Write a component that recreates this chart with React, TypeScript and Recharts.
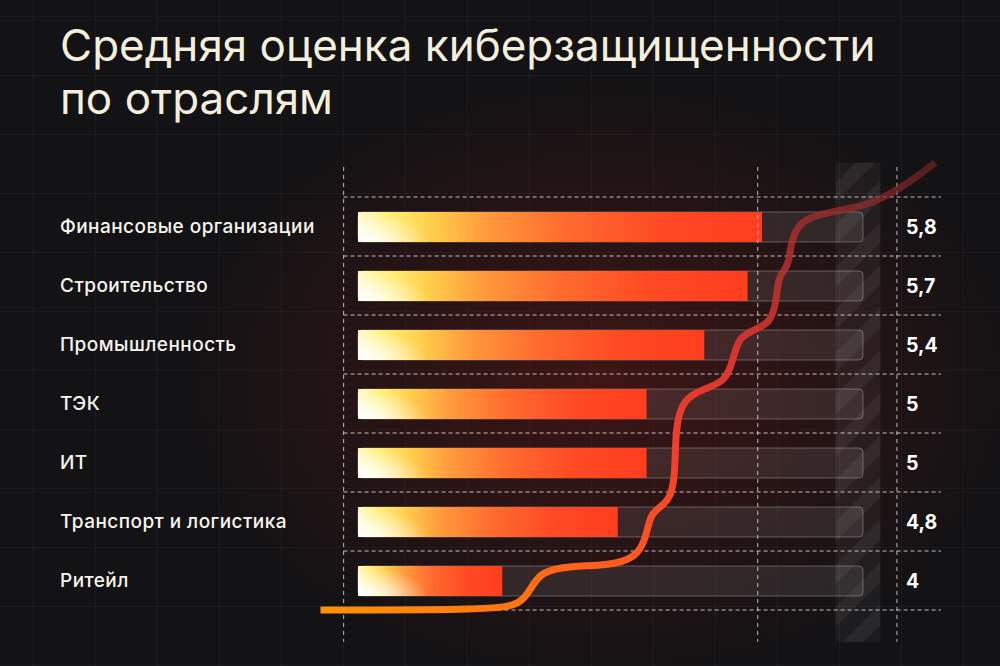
import React from 'react';
import {
  BarChart,
  Bar,
  XAxis,
  YAxis,
  LabelList,
  LineChart,
  Line,
  ReferenceLine,
  ReferenceArea,
} from 'recharts';

// --- data ---
const industries = [
  'Финансовые организации',
  'Строительство',
  'Промышленность',
  'ТЭК',
  'ИТ',
  'Транспорт и логистика',
  'Ритейл',
];
const scores = [5.8, 5.7, 5.4, 5, 5, 4.8, 4];
const scoreDomain: [number, number] = [3, 6.5];

const data = industries.map((name, i) => ({ name, score: scores[i] }));

// --- layout ---
const W = 1000;
const H = 666;
const PLOT_LEFT = 358;
const PLOT_RIGHT = 863;
const PLOT_TOP = 197;
const PLOT_BOTTOM = 610;
const UNIT = (PLOT_RIGHT - PLOT_LEFT) / (scoreDomain[1] - scoreDomain[0]);
const ROW = (PLOT_BOTTOM - PLOT_TOP) / industries.length;

// overlay chart shares the same scale, but with a wider domain so
// the decoration can run past the bars
const overX: [number, number] = [2.5, 7.2];
const overY: [number, number] = [-1, 7.6];
const overMargin = {
  left: PLOT_LEFT - (scoreDomain[0] - overX[0]) * UNIT,
  right: W - (PLOT_LEFT + (overX[1] - scoreDomain[0]) * UNIT),
  top: PLOT_TOP - (0 - overY[0]) * ROW,
  bottom: H - (PLOT_TOP + overY[1] * ROW),
};

// step curve: climbs just past the end of every bar, bottom to top
const STEP_GAP = 0.2;
const BAR_TOP = 0.25;
type Pt = { x: number; y: number };

function stepCorners(): Pt[] {
  const pts: Pt[] = [{ x: 2.74, y: industries.length }];
  let level = industries.length;
  let i = scores.length - 1;
  while (i >= 0) {
    const x = scores[i] + STEP_GAP;
    // equal neighbours share one rise
    let j = i;
    while (j > 0 && scores[j - 1] === scores[i]) j--;
    pts.push({ x, y: level });
    level = j + BAR_TOP;
    pts.push({ x, y: level });
    i = j - 1;
  }
  pts.push({ x: 6.55, y: BAR_TOP });
  pts.push({ x: 7.0, y: -0.58 });
  return pts;
}

const lerp = (a: Pt, b: Pt, t: number): Pt => ({ x: a.x + (b.x - a.x) * t, y: a.y + (b.y - a.y) * t });

// soften the step line before the basis spline: add control points a
// little way from each corner and pull the corner itself half way in
function softCorners(poly: Pt[], r: number, pull: number): Pt[] {
  const tOf = (a: Pt, b: Pt) => Math.min(r / Math.hypot((b.x - a.x) * UNIT, (b.y - a.y) * ROW), 0.5);
  const out: Pt[] = [poly[0]];
  for (let k = 1; k < poly.length; k++) {
    const a = poly[k - 1];
    const b = poly[k];
    const t = tOf(a, b);
    if (k > 1) out.push(lerp(a, b, t));
    const end = lerp(a, b, 1 - t);
    if (t < 0.5 && k < poly.length - 1) out.push(end);
    if (k < poly.length - 1) {
      const c = poly[k + 1];
      const next = lerp(b, c, tOf(b, c));
      out.push(lerp(b, lerp(end, next, 0.5), pull));
    }
  }
  out.push(poly[poly.length - 1]);
  return out;
}
const curve = softCorners(stepCorners(), 40, 0.5);

const rowLines = Array.from({ length: industries.length + 1 }, (_, i) => i);
const colLines = [2.9, 5.77, 6.735];

const fmt = (v: number) => String(v).replace('.', ',');

const FONT = 'Inter, "Noto Sans", sans-serif';

const BarShape = (props: any) => {
  const { x, y, width, height } = props;
  if (!width || width <= 0) return null;
  return (
    <g>
      <rect x={x} y={y} width={width} height={height} fill="url(#barFill)" />
      <rect x={x} y={y} width={Math.min(width, 70)} height={height} fill="url(#barCorner)" />
    </g>
  );
};

const CategoryTick = (props: any) => {
  const { y, payload } = props;
  return (
    <text
      x={60}
      y={y}
      dy={6.5}
      fill="#f7f5f0"
      fontSize={19}
      fontWeight={500}
      letterSpacing={0.45}
      fontFamily={FONT}
      textAnchor="start"
    >
      {payload.value}
    </text>
  );
};

const ValueLabel = (props: any) => {
  const { y, height, value } = props;
  return (
    <text x={PLOT_RIGHT + 43} y={y + height / 2} dy={7} fill="#ffffff" fontSize={19.5} fontWeight={700} fontFamily={FONT}>
      {fmt(value)}
    </text>
  );
};

export default function App() {
  return (
    <div
      style={{
        position: 'absolute',
        left: 0,
        top: 0,
        width: W,
        height: H,
        overflow: 'hidden',
        backgroundColor: '#131214',
        backgroundImage:
          'radial-gradient(ellipse 420px 300px at 600px 380px, rgba(105,24,22,0.5), rgba(0,0,0,0) 100%),' +
          'linear-gradient(to right, rgba(255,255,255,0.035) 0 1px, transparent 1px),' +
          'linear-gradient(to bottom, rgba(255,255,255,0.035) 0 1px, transparent 1px)',
        backgroundSize: '100% 100%, 62px 100%, 100% 59px',
        backgroundPosition: '0 0, 33px 0, 0 16px',
        fontFamily: FONT,
      }}
    >
      <div
        style={{
          position: 'absolute',
          left: 60,
          top: 19,
          fontSize: 44,
          lineHeight: '53px',
          color: '#f3efdc',
          fontWeight: 400,
        }}
      >
        Средняя оценка киберзащищенности
        <br />
        по отраслям
      </div>

      <div style={{ position: 'absolute', left: 0, top: 0 }}>
        <BarChart
          width={W}
          height={H}
          data={data}
          layout="vertical"
          margin={{ top: PLOT_TOP, bottom: H - PLOT_BOTTOM, left: 60, right: W - PLOT_RIGHT }}
        >
          <defs>
            <linearGradient id="barFill" x1="0" y1="0" x2="1" y2="0">
              <stop offset="0" stopColor="#fff8c8" />
              <stop offset="0.07" stopColor="#fff27a" />
              <stop offset="0.18" stopColor="#ffcf4c" />
              <stop offset="0.32" stopColor="#ff9a3c" />
              <stop offset="0.52" stopColor="#ff6a2e" />
              <stop offset="0.75" stopColor="#ff4a24" />
              <stop offset="1" stopColor="#ff3d1f" />
            </linearGradient>
            <radialGradient id="barCorner" cx="0" cy="1" r="1">
              <stop offset="0" stopColor="#ffffff" stopOpacity={1} />
              <stop offset="0.35" stopColor="#ffffff" stopOpacity={0.75} />
              <stop offset="1" stopColor="#ffffff" stopOpacity={0} />
            </radialGradient>
          </defs>
          <XAxis type="number" domain={scoreDomain} hide />
          <YAxis
            type="category"
            dataKey="name"
            width={PLOT_LEFT - 60}
            axisLine={false}
            tickLine={false}
            tick={<CategoryTick />}
          />
          <Bar
            dataKey="score"
            barSize={30}
            isAnimationActive={false}
            shape={<BarShape />}
            background={{ fill: 'rgba(255,255,255,0.085)', stroke: 'rgba(255,255,255,0.28)', strokeWidth: 1, radius: 4 }}
          >
            <LabelList dataKey="score" content={<ValueLabel />} />
          </Bar>
        </BarChart>
      </div>

      <div style={{ position: 'absolute', left: 0, top: 0, pointerEvents: 'none' }}>
        <LineChart width={W} height={H} data={curve} margin={overMargin}>
          <defs>
            <pattern id="hatch" patternUnits="userSpaceOnUse" width="30" height="30" patternTransform="rotate(45)">
              <rect width="30" height="30" fill="rgba(255,255,255,0.045)" />
              <rect width="14" height="30" fill="rgba(255,255,255,0.055)" />
            </pattern>
            <linearGradient id="curveFill" x1="0" y1="1" x2="1" y2="0">
              <stop offset="0" stopColor="#ff9300" />
              <stop offset="0.3" stopColor="#ff5a1f" />
              <stop offset="0.45" stopColor="#f2402c" />
              <stop offset="0.62" stopColor="#e0362f" stopOpacity={0.95} />
              <stop offset="0.8" stopColor="#b0302e" stopOpacity={0.8} />
              <stop offset="1" stopColor="#7a2628" stopOpacity={0.6} />
            </linearGradient>
          </defs>
          <XAxis type="number" dataKey="x" domain={overX} hide />
          <YAxis type="number" dataKey="y" domain={overY} reversed hide />
          <ReferenceArea x1={6.31} x2={6.62} y1={-0.58} y2={7.54} fill="url(#hatch)" fillOpacity={1} stroke="none" />
          {rowLines.map((r) => (
            <ReferenceLine
              key={'r' + r}
              segment={[{ x: 2.9, y: r }, { x: 7.04, y: r }]}
              stroke="rgba(235,235,235,0.8)"
              strokeWidth={1.2}
              strokeDasharray="4 3"
            />
          ))}
          {colLines.map((c) => (
            <ReferenceLine
              key={'c' + c}
              segment={[{ x: c, y: -0.51 }, { x: c, y: 7.54 }]}
              stroke="rgba(235,235,235,0.65)"
              strokeWidth={1.2}
              strokeDasharray="4 4"
            />
          ))}
          <Line
            dataKey="y"
            type="basis"
            stroke="url(#curveFill)"
            strokeWidth={7}
            strokeLinecap="butt"
            dot={false}
            activeDot={false}
            isAnimationActive={false}
          />
        </LineChart>
      </div>
    </div>
  );
}
